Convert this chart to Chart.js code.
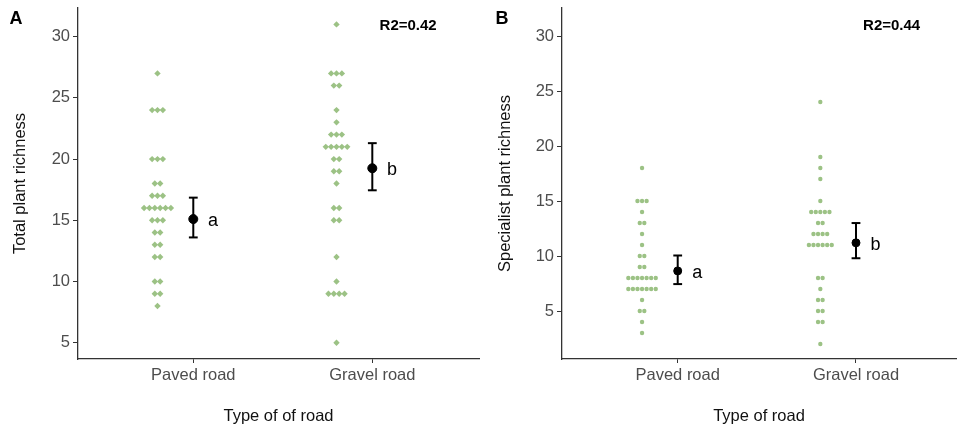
<!DOCTYPE html>
<html>
<head>
<meta charset="utf-8">
<script src="https://cdn.jsdelivr.net/npm/chart.js@4.4.1/dist/chart.umd.min.js"></script>
<style>
  html, body { margin: 0; padding: 0; background: #fff; overflow: hidden; }
  #wrap { position: relative; width: 958px; height: 426px; }
  .panel { position: absolute; top: 0; height: 426px; }
  #panelA { left: 0; width: 480px; }
  #panelB { left: 480px; width: 478px; }
</style>
</head>
<body>
<div id="wrap">
  <div class="panel" id="panelA"><canvas id="totalChart"></canvas></div>
  <div class="panel" id="panelB"><canvas id="specialistChart"></canvas></div>
</div>
<script>
const roadTypes = ['Paved road', 'Gravel road'];
const yTicks = [5, 10, 15, 20, 25, 30];

// Total plant richness, one value per site
const totalPaved = [27, 24, 24, 24, 20, 20, 20, 18, 18, 17, 17, 17, 16, 16, 16, 16, 16, 16,
  15, 15, 15, 14, 14, 13, 13, 12, 12, 10, 10, 9, 9, 8];
const totalGravel = [31, 27, 27, 27, 26, 26, 24, 23, 22, 22, 22, 21, 21, 21, 21, 21, 20, 20,
  19, 19, 18, 16, 16, 15, 15, 12, 10, 9, 9, 9, 9, 5];
const totalMeans = [15.1, 19.25];
const totalLower = [13.6, 17.45];
const totalUpper = [16.85, 21.3];
const totalLetters = ['a', 'b'];

// Specialist plant richness, one value per site
const specPaved = [18, 15, 15, 15, 14, 13, 13, 12, 11, 10, 10, 9, 9, 8, 8, 8, 8, 8, 8, 8,
  7, 7, 7, 7, 7, 7, 7, 6, 5, 5, 4, 3];
const specGravel = [24, 19, 18, 17, 15, 14, 14, 14, 14, 14, 13, 13, 12, 12, 12, 12,
  11, 11, 11, 11, 11, 11, 8, 8, 7, 6, 6, 5, 5, 4, 4, 2];
const specMeans = [8.65, 11.2];
const specLower = [7.45, 9.8];
const specUpper = [10.05, 13.0];
const specLetters = ['a', 'b'];

const dotColor = '#9cc285';
Chart.defaults.font.family = "'Liberation Sans', Arial, sans-serif";

// lay out a dot strip: equal values sit side by side around xCenter
function stackDots(values, xCenter, step) {
  const counts = {};
  values.forEach(v => { counts[v] = (counts[v] || 0) + 1; });
  const seen = {};
  return values.map(v => {
    seen[v] = seen[v] === undefined ? 0 : seen[v] + 1;
    return { x: xCenter + (seen[v] - (counts[v] - 1) / 2) * step, y: v };
  });
}

const labelPlugin = {
  id: 'panelLabels',
  afterDatasetsDraw(chart, args, opts) {
    const { ctx, scales: { x, y } } = chart;
    ctx.save();
    ctx.fillStyle = '#000';
    ctx.textAlign = 'center';
    ctx.textBaseline = 'middle';
    ctx.font = '18px "Liberation Sans", Arial, sans-serif';
    opts.letters.forEach((t, i) => {
      ctx.fillText(t, x.getPixelForValue(i + 1.11), y.getPixelForValue(opts.means[i]) + 2);
    });
    ctx.font = 'bold 15px "Liberation Sans", Arial, sans-serif';
    ctx.fillText(opts.r2, x.getPixelForValue(2.2), y.getPixelForValue(30.9));
    ctx.font = 'bold 18px "Liberation Sans", Arial, sans-serif';
    ctx.fillText(opts.tag, opts.tagX, 19);
    ctx.restore();
  }
};

function makePanel(id, cfg) {
  const datasets = [];
  cfg.groups.forEach((vals, i) => {
    datasets.push({
      data: stackDots(vals, i + 1 - 0.2, cfg.dotStep),
      pointStyle: cfg.dotStyle,
      pointRadius: cfg.dotRadius,
      backgroundColor: dotColor,
      borderColor: dotColor,
      borderWidth: 0
    });
  });
  cfg.means.forEach((m, i) => {
    datasets.push({
      data: [{ x: i + 1, y: cfg.lower[i] }, { x: i + 1, y: cfg.upper[i] }],
      showLine: true,
      borderColor: '#000',
      borderWidth: 2,
      pointStyle: 'line',
      pointRadius: 4.4,
      pointBorderWidth: 2,
      pointBorderColor: '#000'
    });
  });
  datasets.push({
    data: cfg.means.map((m, i) => ({ x: i + 1, y: m })),
    pointRadius: cfg.meanRadius,
    backgroundColor: '#000',
    borderColor: '#000'
  });

  new Chart(document.getElementById(id), {
    type: 'scatter',
    data: { datasets: datasets },
    plugins: [labelPlugin],
    options: {
      responsive: true,
      maintainAspectRatio: false,
      animation: false,
      layout: {
        autoPadding: false,
        padding: { top: 8, right: cfg.padRight, left: 0, bottom: 0 }
      },
      plugins: {
        legend: { display: false },
        tooltip: { enabled: false },
        panelLabels: { letters: cfg.letters, means: cfg.means, r2: cfg.r2, tag: cfg.tag, tagX: cfg.tagX }
      },
      scales: {
        x: {
          type: 'linear',
          min: cfg.xMin,
          max: cfg.xMax,
          afterBuildTicks: s => { s.ticks = roadTypes.map((r, i) => ({ value: i + 1 })); },
          afterFit: s => {
            s.height = 67;
            s.paddingLeft = 0;
            s.paddingRight = 0;
          },
          ticks: {
            callback: v => roadTypes[v - 1],
            color: '#4d4d4d',
            font: { size: 16.5 },
            padding: 3,
            autoSkip: false,
            maxRotation: 0
          },
          grid: { drawOnChartArea: false, tickLength: 4, color: '#333' },
          border: { color: '#333', width: 1.3 },
          title: {
            display: true,
            text: cfg.xTitle,
            color: '#111',
            font: { size: 16.5 },
            padding: { top: 0, bottom: 0 }
          }
        },
        y: {
          min: cfg.yMin,
          max: cfg.yMax,
          afterBuildTicks: s => { s.ticks = yTicks.map(v => ({ value: v })); },
          afterFit: s => {
            s.width = cfg.yWidth;
            s.paddingTop = 0;
            s.paddingBottom = 0;
          },
          ticks: { color: '#4d4d4d', font: { size: 16.5 }, padding: 3 },
          grid: { drawOnChartArea: false, tickLength: 5, color: '#333' },
          border: { color: '#333', width: 1.3 },
          title: {
            display: true,
            text: cfg.yTitle,
            color: '#111',
            font: { size: 16.5 },
            padding: { top: cfg.yTitlePad, bottom: 0 }
          }
        }
      }
    }
  });
}

makePanel('totalChart', {
  groups: [totalPaved, totalGravel],
  means: totalMeans, lower: totalLower, upper: totalUpper, letters: totalLetters,
  r2: 'R2=0.42', tag: 'A', tagX: 16,
  dotStyle: 'rectRot', dotRadius: 3.2, dotStep: 0.03, meanRadius: 4.5,
  xMin: 0.356, xMax: 2.596, yMin: 3.67, yMax: 32.34,
  yWidth: 78, padRight: 1, yTitlePad: 11,
  xTitle: 'Type of of road', yTitle: 'Total plant richness'
});

makePanel('specialistChart', {
  groups: [specPaved, specGravel],
  means: specMeans, lower: specLower, upper: specUpper, letters: specLetters,
  r2: 'R2=0.44', tag: 'B', tagX: 22,
  dotStyle: 'circle', dotRadius: 2.2, dotStep: 0.0256, meanRadius: 4,
  xMin: 0.351, xMax: 2.561, yMin: 0.64, yMax: 32.55,
  yWidth: 82, padRight: 2, yTitlePad: 16,
  xTitle: 'Type of road', yTitle: 'Specialist plant richness'
});
</script>
</body>
</html>
